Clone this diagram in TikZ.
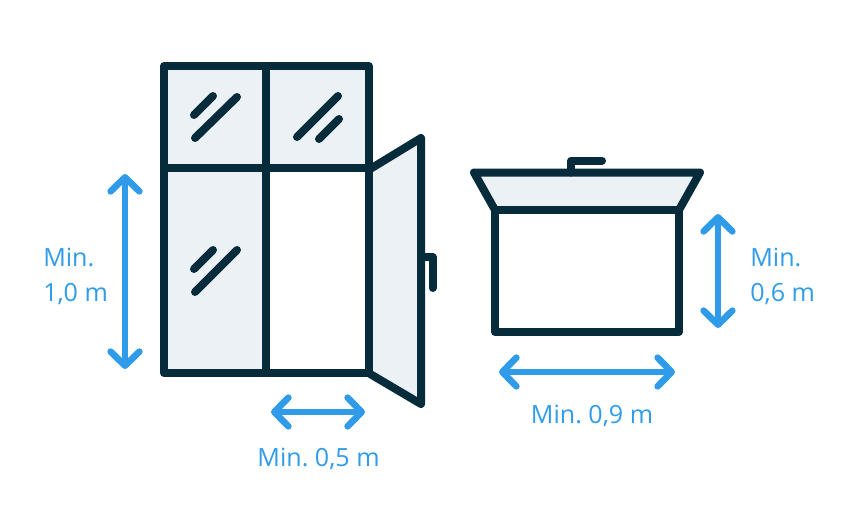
\documentclass[tikz,border=0pt]{standalone}
\usepackage{fontspec}
\setmainfont{Open Sans}
\usetikzlibrary{arrows.meta}
\definecolor{ink}{HTML}{062B3B}
\definecolor{pane}{HTML}{ECF1F6}
\definecolor{dim}{HTML}{309CE9}
\tikzset{
  x=0.75pt,y=-0.75pt,
  frame/.style={draw=ink,line width=6pt,line join=round,line cap=round},
  glass/.style={draw=ink,line width=6pt,line cap=round},
  panefill/.style={fill=pane,draw=none},
  dimline/.style={draw=dim,line width=5pt,{Straight Barb[round,length=10.5pt,width=21.5pt,line width=5pt]}-{Straight Barb[round,length=10.5pt,width=21.5pt,line width=5pt]}},
  dimtext/.style={text=dim,font=\fontsize{18.8}{25.8}\selectfont\frenchspacing,inner sep=0pt,align=left}
}
\begin{document}
\begin{tikzpicture}
\useasboundingbox (0,0) rectangle (843,510);
% panes
\fill[panefill] (164,66) rectangle (368,168);
\fill[panefill] (164,168) rectangle (266,373);
\fill[panefill] (369,170) -- (421,138) -- (421,404) -- (369,373) -- cycle;
\fill[panefill] (474,172) -- (700,172) -- (679,209) -- (495,209) -- cycle;
% window frame
\draw[frame] (164,66) rectangle (368.5,373);
\draw[frame] (266,66) -- (266,373);
\draw[frame] (164,168) -- (368.5,168);
% door
\draw[frame] (368.5,170) -- (421,138) -- (421,404) -- (368.5,373);
\draw[frame] (421,257) -- (432.5,257) -- (432.5,288);
% glints
\draw[glass] (194,115) -- (213,96);
\draw[glass] (195,138) -- (237,97);
\draw[glass] (297,137) -- (338,96);
\draw[glass] (319,139) -- (339,119);
\draw[glass] (194,269) -- (213,250);
\draw[glass] (195,292) -- (237,250);
% box
\draw[frame] (495,210) rectangle (679,332);
\draw[frame] (495,210) -- (474,172.5) -- (700,172.5) -- (679,210);
\draw[frame] (571,172.5) -- (571,160.5) -- (602,160.5);
% dimensions
\coordinate (a1) at (125,174); \coordinate (a2) at (125,369);
\coordinate (b1) at (271,412); \coordinate (b2) at (365,412);
\coordinate (c1) at (499,372); \coordinate (c2) at (675,372);
\coordinate (d1) at (718,214); \coordinate (d2) at (718,328);
\draw[dimline] (a1) -- (a2);
\draw[dimline] (b1) -- (b2);
\draw[dimline] (c1) -- (c2);
\draw[dimline] (d1) -- (d2);
\node[dimtext,anchor=west] (ta) at (43,276.5) {Min.\\1,0 m};
\node[dimtext,anchor=center] (tb) at (318.5,459) {Min. 0,5 m};
\node[dimtext,anchor=center] (tc) at (592,416) {Min. 0,9 m};
\node[dimtext,anchor=west] (td) at (750,276.5) {Min.\\0,6 m};
\end{tikzpicture}
\end{document}
